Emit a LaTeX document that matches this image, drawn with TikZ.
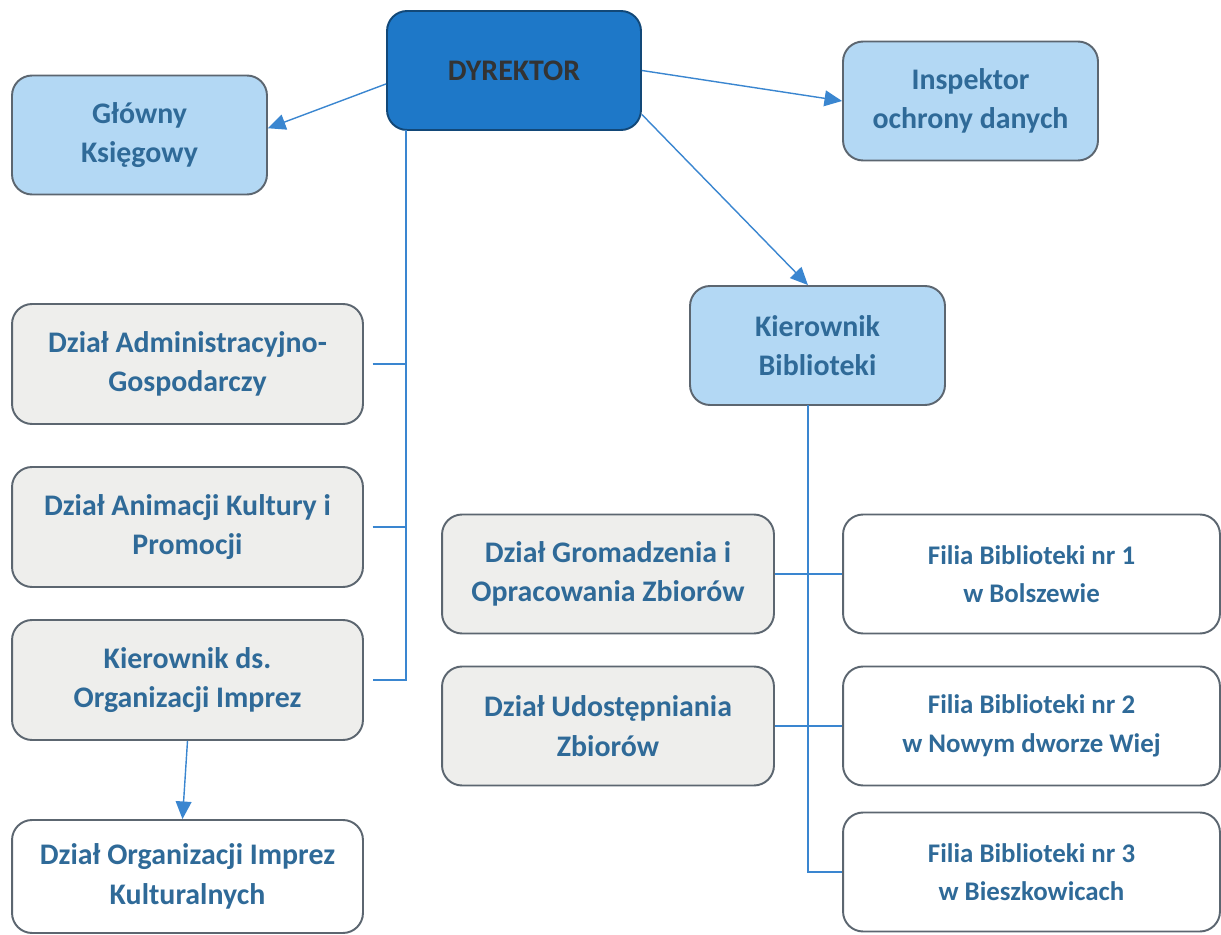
\documentclass[tikz,border=0pt]{standalone}
\usepackage{fontspec}
\setmainfont{Carlito}
\usetikzlibrary{arrows.meta}
\definecolor{dyrblue}{HTML}{1E78C8}
\definecolor{lightblue}{HTML}{B3D8F4}
\definecolor{lightgray}{HTML}{EEEEEC}
\definecolor{edgegray}{HTML}{5C6670}
\definecolor{textblue}{HTML}{2F6A98}
\definecolor{linkblue}{HTML}{3A86D0}
\begin{document}
\begin{tikzpicture}[x=0.02cm,y=-0.02cm,
  box/.style={draw=edgegray, line width=1.1pt, rounded corners=0.4cm, align=center,
    font=\fontsize{17}{22.5}\selectfont\bfseries, text=textblue, inner sep=0pt},
  small/.style={box, minimum width=5.1cm, minimum height=2.38cm, fill=lightblue},
  wide/.style={box, minimum width=7.02cm, minimum height=2.4cm},
  mid/.style={box, minimum width=6.64cm, minimum height=2.38cm, fill=lightgray},
  filia/.style={box, minimum width=7.54cm, minimum height=2.38cm, fill=white,
    font=\fontsize{15.3}{22}\selectfont\bfseries},
  link/.style={draw=linkblue, line width=0.8pt},
  arr/.style={link, -{Triangle[length=10pt,width=9pt]}}]
\useasboundingbox (0,0) rectangle (1221,935);
% gora
\node[box, fill=dyrblue, draw=dyrblue!60!black, minimum width=5.08cm, minimum height=2.38cm, text=black!80] (dyr) at (514,70.5) {DYREKTOR};
\node[small] (gk) at (139.5,135) {Główny\\Księgowy};
\node[small] (iod) at (970.5,101) {Inspektor\\ochrony danych};
\node[small] (kb) at (817.5,345.5) {Kierownik\\Biblioteki};
% lewa kolumna
\node[wide, fill=lightgray] (dag) at (187.5,364) {Dział Administracyjno-\\Gospodarczy};
\node[wide, fill=lightgray] (dak) at (187.5,527) {Dział Animacji Kultury i\\Promocji};
\node[wide, fill=lightgray] (kor) at (187.5,680) {Kierownik ds.\\Organizacji Imprez};
\node[wide, fill=white, minimum height=2.26cm] (doik) at (187.5,876.5) {Dział Organizacji Imprez\\Kulturalnych};
% biblioteka
\node[mid] (dgz) at (608,574) {Dział Gromadzenia i\\Opracowania Zbiorów};
\node[mid] (duz) at (608,726) {Dział Udostępniania\\Zbiorów};
\node[filia] (f1) at (1031.5,574) {Filia Biblioteki nr 1\\w Bolszewie};
\node[filia] (f2) at (1031.5,726) {Filia Biblioteki nr 2\\w Nowym dworze Wiej};
\node[filia] (f3) at (1031.5,872) {Filia Biblioteki nr 3\\w Bieszkowicach};
% strzalki od dyrektora
\draw[arr] (dyr.186) -- (gk.3);
\draw[arr] (dyr.east) -- (iod.west);
\draw[arr] (dyr.-19) -- (kb.99);
\draw[arr] (kor.south) -- (doik.95);
% pion od dyrektora
\coordinate (trunk) at (406,130);
\draw[link, shorten >=5pt] (trunk) |- (kor.east);
\draw[link, shorten <=5pt] (dag.east) -- (dag.east -| trunk);
\draw[link, shorten <=5pt] (dak.east) -- (dak.east -| trunk);
% pion od kierownika biblioteki
\coordinate (kbtrunk) at (808,405);
\draw[link] (kbtrunk) |- (f3.west);
\draw[link] (dgz.east) -- (f1.west);
\draw[link] (duz.east) -- (f2.west);
\end{tikzpicture}
\end{document}
